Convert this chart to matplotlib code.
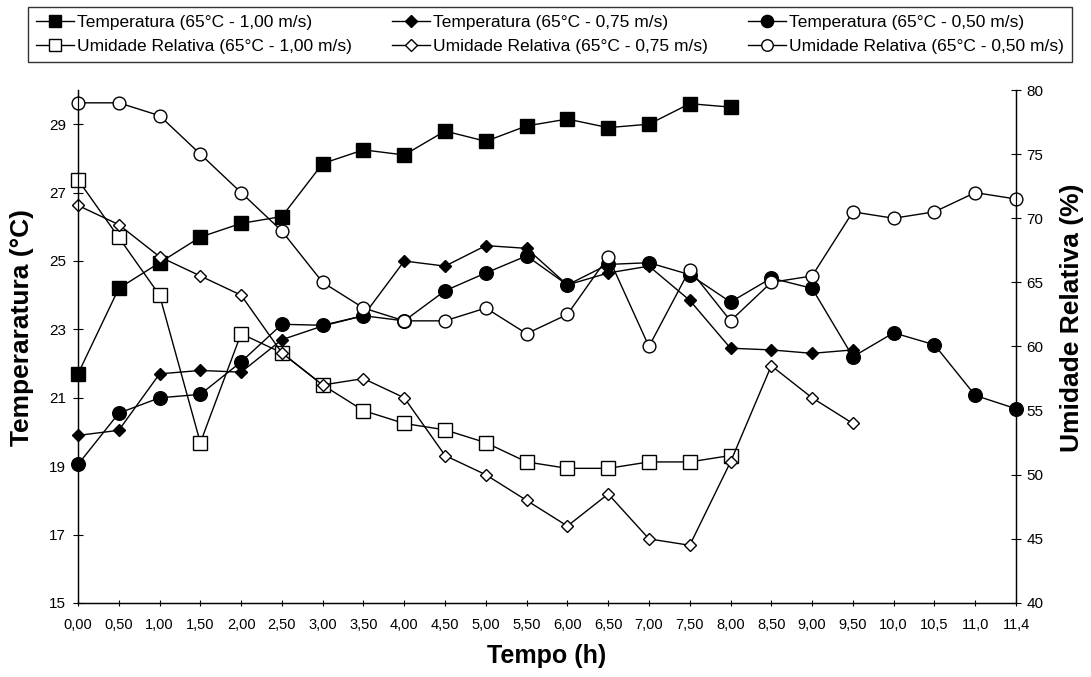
import matplotlib
matplotlib.use("Agg")
import matplotlib.pyplot as plt

plt.rcParams['font.family'] = ['Liberation Sans', 'DejaVu Sans']

tempo = ["0,00", "0,50", "1,00", "1,50", "2,00", "2,50", "3,00", "3,50", "4,00", "4,50",
         "5,00", "5,50", "6,00", "6,50", "7,00", "7,50", "8,00", "8,50", "9,00", "9,50",
         "10,0", "10,5", "11,0", "11,4"]

temp_100 = [21.7, 24.2, 24.95, 25.7, 26.1, 26.3, 27.85, 28.25, 28.1, 28.8, 28.5, 28.95,
            29.15, 28.9, 29.0, 29.6, 29.5]
temp_075 = [19.9, 20.05, 21.7, 21.8, 21.75, 22.7, 23.1, 23.4, 25.0, 24.85, 25.45, 25.37,
            24.3, 24.65, 24.85, 23.85, 22.45, 22.4, 22.3, 22.4]
temp_050 = [19.05, 20.55, 21.0, 21.1, 22.05, 23.15, 23.12, 23.4, 23.25, 24.13, 24.65, 25.15,
            24.3, 24.9, 24.95, 24.6, 23.8, 24.5, 24.2, 22.2, 22.9, 22.55, 21.07, 20.68]

ur_100 = [73.0, 68.5, 64.0, 52.5, 61.0, 59.5, 57.0, 55.0, 54.0, 53.5, 52.5, 51.0,
          50.5, 50.5, 51.0, 51.0, 51.5]
ur_075 = [71.0, 69.5, 67.0, 65.5, 64.0, 59.5, 57.0, 57.5, 56.0, 51.5, 50.0, 48.0,
          46.0, 48.5, 45.0, 44.5, 51.0, 58.5, 56.0, 54.0]
ur_050 = [79.0, 79.0, 78.0, 75.0, 72.0, 69.0, 65.0, 63.0, 62.0, 62.0, 63.0, 61.0,
          62.5, 67.0, 60.0, 66.0, 62.0, 65.0, 65.5, 70.5, 70.0, 70.5, 72.0, 71.5]

labels_t = ["Temperatura (65°C - 1,00 m/s)", "Temperatura (65°C - 0,75 m/s)",
            "Temperatura (65°C - 0,50 m/s)"]
labels_u = ["Umidade Relativa (65°C - 1,00 m/s)", "Umidade Relativa (65°C - 0,75 m/s)",
            "Umidade Relativa (65°C - 0,50 m/s)"]

W, H = 1091, 677
fig = plt.figure(figsize=(W / 100, H / 100), dpi=100)
ax_l, ax_r, ax_t, ax_b = 78, 1016, 90, 603
ax = fig.add_axes([ax_l / W, 1 - ax_b / H, (ax_r - ax_l) / W, (ax_b - ax_t) / H])
ax2 = ax.twinx()

common = dict(color='black', lw=1.0, clip_on=False, markeredgecolor='black',
              markeredgewidth=1.0)

x = list(range(len(tempo)))
h1, = ax.plot(x[:len(temp_100)], temp_100, marker='s', ms=9.8, markerfacecolor='black', **common)
h2, = ax.plot(x[:len(temp_075)], temp_075, marker='D', ms=6.5, markerfacecolor='black', **common)
h3, = ax.plot(x[:len(temp_050)], temp_050, marker='o', ms=9.8, markerfacecolor='black', **common)
g1, = ax2.plot(x[:len(ur_100)], ur_100, marker='s', ms=10, markerfacecolor='white', **common)
g2, = ax2.plot(x[:len(ur_075)], ur_075, marker='D', ms=6.5, markerfacecolor='white', **common)
g3, = ax2.plot(x[:len(ur_050)], ur_050, marker='o', ms=9.2, markerfacecolor='white', **common)

ax.set_xlim(0, len(tempo) - 1)
ax.set_ylim(15, 30)
ax2.set_ylim(40, 80)
ax.set_yticks([15, 17, 19, 21, 23, 25, 27, 29])
ax2.set_yticks([40, 45, 50, 55, 60, 65, 70, 75, 80])
ax.set_xticks(x)
ax.set_xticklabels(tempo, fontsize=10.5)
ax.tick_params(axis='y', direction='inout', length=7, width=0.8, labelsize=11, pad=5)
ax.tick_params(axis='x', direction='inout', length=5, width=0.8, pad=8)
ax2.tick_params(axis='y', direction='inout', length=7, width=0.8, labelsize=11, pad=4)

for a in (ax, ax2):
    a.spines['top'].set_visible(False)
    for s in ('left', 'right', 'bottom'):
        a.spines[s].set_linewidth(0.9)
ax.set_facecolor('none')

ax.set_xlabel("Tempo (h)", fontsize=18, fontweight='bold', labelpad=9)
ax.set_ylabel("Temperaratura (°C)", fontsize=19, fontweight='bold')
ax2.set_ylabel("Umidade Relativa (%)", fontsize=19, fontweight='bold')
ax.yaxis.set_label_coords((34 - ax_l) / (ax_r - ax_l), (ax_b - 327) / (ax_b - ax_t))
ax2.yaxis.set_label_coords((1060 - ax_l) / (ax_r - ax_l), (ax_b - 318) / (ax_b - ax_t))

handles = [h1, g1, h2, g2, h3, g3]
labs = [labels_t[0], labels_u[0], labels_t[1], labels_u[1], labels_t[2], labels_u[2]]
lx0, lx1, ly0, ly1 = 28, 1072, 7, 62
leg = fig.legend(handles, labs, ncol=3, loc='center',
                 bbox_to_anchor=(lx0 / W, 1 - ly1 / H, (lx1 - lx0) / W, (ly1 - ly0) / H),
                 mode='expand', borderaxespad=0, fontsize=12.5, frameon=True, fancybox=False,
                 edgecolor='black', handlelength=2.2, handletextpad=0.2,
                 columnspacing=0.3, borderpad=0.44, labelspacing=0.55, markerscale=0.9)
leg.get_frame().set_linewidth(1.0)

fig.savefig("out.png", dpi=100)
